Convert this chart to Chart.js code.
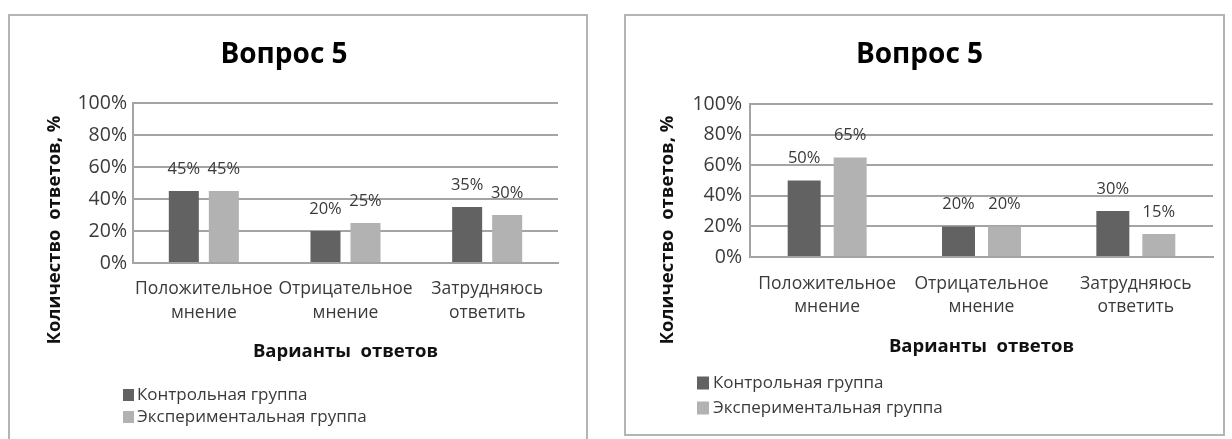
<!DOCTYPE html>
<html>
<head>
<meta charset="utf-8">
<script src="https://cdn.jsdelivr.net/npm/chart.js@4"></script>
<style>
  html, body { margin: 0; padding: 0; background: #ffffff; overflow: hidden; }
  body { width: 1232px; height: 439px; position: relative; }
  .box { position: absolute; border: 2px solid #b4b4b4; background: #fff; box-sizing: border-box; }
  .box canvas { position: absolute; left: 0; top: 0; }
  #boxL { left: 8px; top: 14px; width: 580px; height: 440px; }
  #boxR { left: 624px; top: 14px; width: 601px; height: 422px; }
</style>
</head>
<body>
<div class="box" id="boxL"><canvas id="chartL"></canvas></div>
<div class="box" id="boxR"><canvas id="chartR"></canvas></div>
<script>
// ---- data ----
const categories = [
  ['Положительное', 'мнение'],
  ['Отрицательное', 'мнение'],
  ['Затрудняюсь', 'ответить']
];
const seriesNames = ['Контрольная группа', 'Экспериментальная группа'];
const leftControl = [45, 20, 35];
const leftExperimental = [45, 25, 30];
const rightControl = [50, 20, 30];
const rightExperimental = [65, 20, 15];
const yTickStep = 20;
const yMax = 100;
const chartTitle = 'Вопрос 5';
const xAxisTitle = 'Варианты  ответов';
const yAxisTitle = 'Количество  ответов, %';

// ---- styles ----
const COLORS = ['#626262', '#b2b2b2'];
const FONT = "'Open Sans', 'DejaVu Sans', sans-serif";
const TEXT = '#3a3a3a';

const valueLabels = {
  id: 'valueLabels',
  afterDatasetsDraw(chart, args, opts) {
    const ctx = chart.ctx;
    ctx.save();
    ctx.font = opts.size + 'px ' + FONT;
    ctx.fillStyle = TEXT;
    ctx.textAlign = 'center';
    ctx.textBaseline = 'middle';
    chart.data.datasets.forEach((ds, i) => {
      chart.getDatasetMeta(i).data.forEach((bar, j) => {
        ctx.fillText(ds.data[j] + '%', bar.x, bar.y - opts.offset);
      });
    });
    ctx.restore();
  }
};

const boxLegend = {
  id: 'boxLegend',
  afterDraw(chart, args, opts) {
    const ctx = chart.ctx;
    ctx.save();
    ctx.font = opts.size + 'px ' + FONT;
    ctx.textBaseline = 'middle';
    ctx.textAlign = 'left';
    chart.data.datasets.forEach((ds, i) => {
      const y = opts.rows[i];
      ctx.fillStyle = ds.backgroundColor;
      ctx.fillRect(opts.boxX, y - opts.box / 2, opts.box - 1, opts.box);
      ctx.fillStyle = TEXT;
      ctx.fillText(ds.label, opts.textX, y);
    });
    ctx.restore();
  }
};

const yTitle = {
  id: 'yTitle',
  afterDraw(chart, args, opts) {
    const ctx = chart.ctx;
    ctx.save();
    ctx.translate(opts.x, opts.y);
    ctx.rotate(-Math.PI / 2);
    ctx.font = 'bold ' + opts.size + 'px ' + FONT;
    ctx.fillStyle = '#111';
    ctx.textAlign = 'center';
    ctx.textBaseline = 'middle';
    ctx.fillText(opts.text, 0, 0);
    ctx.restore();
  }
};

function makeChart(id, w, h, control, experimental, L) {
  const canvas = document.getElementById(id);
  canvas.style.width = w + 'px';
  canvas.style.height = h + 'px';
  return new Chart(canvas, {
    type: 'bar',
    data: {
      labels: categories,
      datasets: [
        { label: seriesNames[0], data: control, backgroundColor: COLORS[0],
          categoryPercentage: L.catPct, barPercentage: L.barPct },
        { label: seriesNames[1], data: experimental, backgroundColor: COLORS[1],
          categoryPercentage: L.catPct, barPercentage: L.barPct }
      ]
    },
    options: {
      responsive: false,
      animation: false,
      devicePixelRatio: 1,
      layout: { padding: { left: 0, top: 0, right: L.padRight, bottom: L.padBottom } },
      plugins: {
        legend: { display: false },
        tooltip: { enabled: false },
        title: {
          display: true, text: chartTitle, color: '#000',
          font: { family: FONT, size: 28, weight: 'bold', lineHeight: 1.2 },
          padding: { top: L.titleTop, bottom: L.titleBottom }
        },
        valueLabels: { size: 16.5, offset: 22 },
        boxLegend: L.legend,
        yTitle: { text: yAxisTitle, size: 18.5, x: L.yTitleX, y: L.yTitleY }
      },
      scales: {
        x: {
          grid: { display: false, drawTicks: false },
          border: { display: true, color: '#a4a4a4', width: 2 },
          ticks: {
            color: TEXT, autoSkip: false, maxRotation: 0, minRotation: 0,
            padding: L.xTickPad,
            font: { family: FONT, size: 17.5, lineHeight: L.xLine + 'px' }
          },
          title: {
            display: true, text: xAxisTitle, color: '#111',
            font: { family: FONT, size: 18.5, weight: 'bold', lineHeight: 1.2 },
            padding: { top: 0, bottom: 0 }
          },
          afterFit(s) { s.height = L.xHeight; }
        },
        y: {
          min: 0, max: yMax,
          grid: { color: '#a4a4a4', lineWidth: 2, drawTicks: false },
          border: { display: true, color: '#a4a4a4', width: 2 },
          ticks: {
            stepSize: yTickStep, color: TEXT, padding: L.yTickPad,
            font: { family: FONT, size: 19.5 },
            callback: v => v + '%'
          },
          title: { display: false },
          afterFit(s) { s.width = L.yWidth; }
        }
      }
    },
    plugins: [valueLabels, boxLegend, yTitle]
  });
}

// left chart canvas: 576 x 436 ; plot area x 123..548, y 87..247
makeChart('chartL', 576, 436, leftControl, leftExperimental, {
  catPct: 0.565, barPct: 0.75,
  padRight: 28, padBottom: 436 - 347,
  titleTop: 22, titleBottom: 31.4,
  xTickPad: 14, xLine: 24, xHeight: 100,
  yTickPad: 6, yWidth: 123, yTitleX: 45, yTitleY: 214,
  legend: { size: 17, box: 12, boxX: 113, textX: 127, rows: [379, 401] }
});

// right chart canvas: 597 x 418 ; plot area x 124..587, y 88..241
makeChart('chartR', 597, 418, rightControl, rightExperimental, {
  catPct: 0.596, barPct: 0.717,
  padRight: 10, padBottom: 418 - 342,
  titleTop: 22, titleBottom: 32.4,
  xTickPad: 15.5, xLine: 23, xHeight: 101,
  yTickPad: 8, yWidth: 124, yTitleX: 42, yTitleY: 214,
  legend: { size: 17, box: 13, boxX: 71, textX: 87, rows: [367, 392] }
});
</script>
</body>
</html>
